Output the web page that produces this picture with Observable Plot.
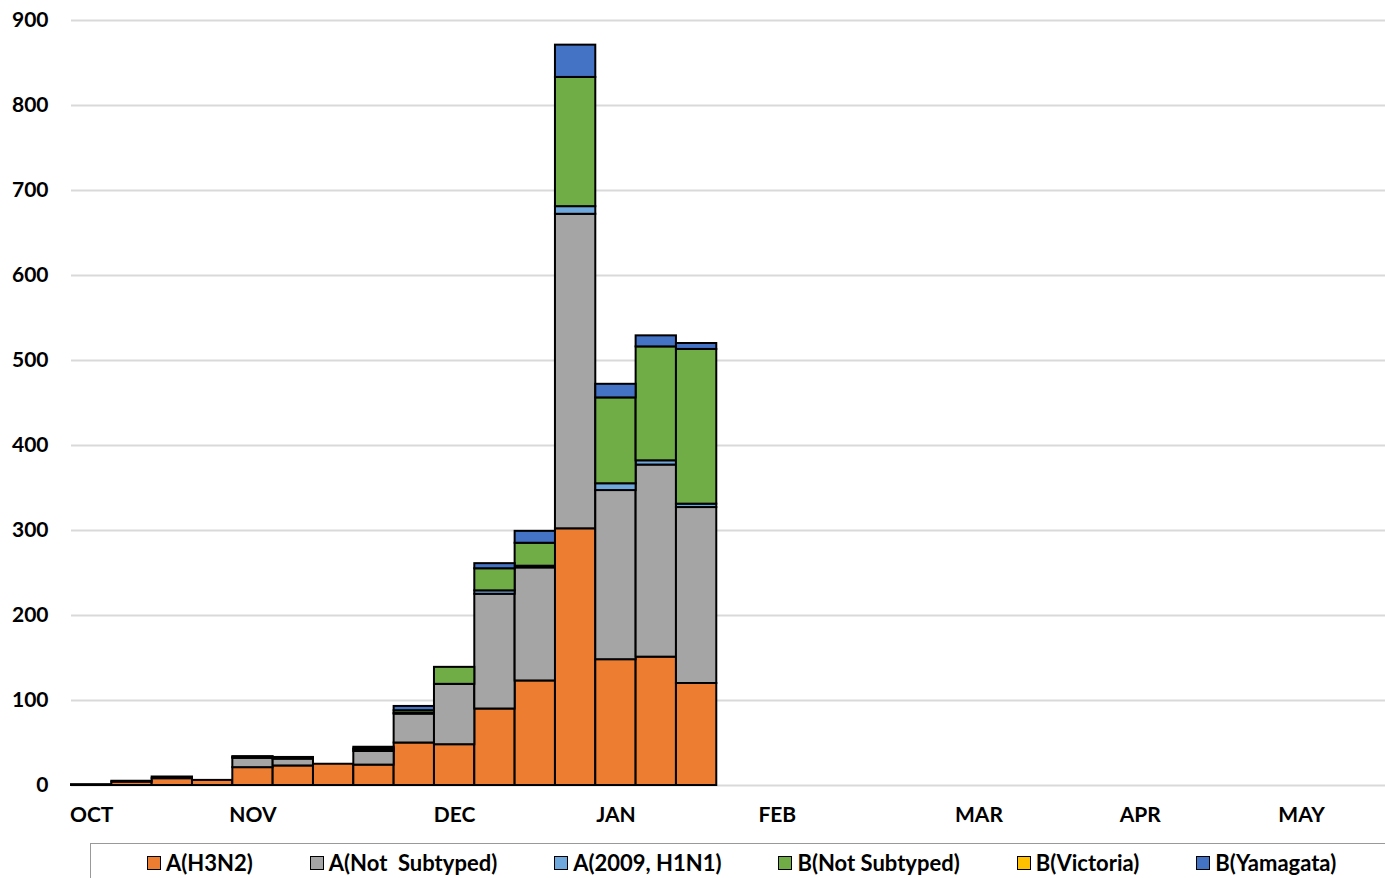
<!DOCTYPE html>
<html>
<head>
<meta charset="utf-8">
<script src="https://cdn.jsdelivr.net/npm/d3@7"></script>
<script src="https://cdn.jsdelivr.net/npm/@observablehq/plot@0.6"></script>
<style>
  html, body { margin: 0; padding: 0; background: #fff; overflow: hidden; }
  body { width: 1385px; height: 878px; position: relative; font-family: Lato, "Open Sans", sans-serif; }
  #chart { position: absolute; left: 0; top: 0; }
  #legend { position: absolute; left: 90px; top: 843px; width: 1320px; height: 60px;
            border-top: 1.5px solid #999; border-left: 1.5px solid #999; box-sizing: border-box;
            display: flex; gap: 57px; padding-left: 56px; padding-top: 5px; align-items: flex-start; }
  .item { display: flex; align-items: center; font-weight: 700; font-size: 22px; color: #000; white-space: pre; }
  .sw { width: 12px; height: 12px; border: 1.5px solid #000; margin-right: 5px; }
</style>
</head>
<body>
<div id="chart"></div>
<div id="legend"></div>
<script>
// ---- data ----
const weekCount = 33;                 // OCT .. end of MAY (weekly)
const monthLabels = ["OCT", "NOV", "DEC", "JAN", "FEB", "MAR", "APR", "MAY"];
const monthStartWeek = [0, 4, 9, 13, 17, 22, 26, 30];
const seriesNames = ["A(H3N2)", "A(Not  Subtyped)", "A(2009, H1N1)", "B(Not Subtyped)", "B(Victoria)", "B(Yamagata)"];
const seriesColors = ["#ED7D31", "#A5A5A5", "#6FA8DC", "#70AD47", "#FFC000", "#4472C4"];
const yTicks = [0, 100, 200, 300, 400, 500, 600, 700, 800, 900];

const h3n2      = [1, 4, 8, 6, 21, 23, 25, 24, 50, 48, 90, 123, 302, 148, 151, 120];
const aNotSub   = [0, 1, 2, 0, 11, 8, 0, 16, 34, 71, 135, 133, 370, 199, 226, 207];
const h1n1      = [0, 0, 0, 0, 1, 1, 0, 2, 1, 0, 4, 2, 9, 8, 5, 4];
const bNotSub   = [0, 0, 0, 0, 0, 0, 0, 1, 3, 20, 26, 27, 152, 101, 134, 182];
const bVictoria = [0, 0, 0, 0, 0, 0, 0, 0, 0, 0, 0, 0, 0, 0, 0, 0];
const bYamagata = [0, 0, 0, 0, 1, 1, 0, 2, 5, 0, 6, 14, 38, 16, 13, 7];

const seriesValues = [h3n2, aNotSub, h1n1, bNotSub, bVictoria, bYamagata];

// long table for the library
const rows = [];
seriesValues.forEach((vals, s) => {
  vals.forEach((v, w) => { if (v > 0) rows.push({week: w, type: seriesNames[s], value: v}); });
});

const weeks = d3.range(weekCount);
const W = 1385, H = 835;

const chart = Plot.plot({
  width: W,
  height: H,
  marginLeft: 71,
  marginRight: 0,
  marginTop: 20,
  marginBottom: 50,
  style: {fontFamily: "Lato, 'Open Sans', sans-serif", background: "#fff"},
  x: {type: "band", domain: weeks, range: [71, 71 + weekCount * 40.33], padding: 0, round: false},
  y: {domain: [0, 900]},
  color: {domain: seriesNames, range: seriesColors},
  marks: [
    Plot.ruleY(yTicks, {stroke: "#d9d9d9", strokeWidth: 2}),
    Plot.barY(rows, Plot.stackY({
      x: "week", y: "value", fill: "type", z: "type",
      stroke: "#000", strokeWidth: 2, inset: 0
    })),
    Plot.axisY({ticks: yTicks, tickSize: 0, tickPadding: 23, fontSize: 21, fontWeight: 700, label: null}),
    Plot.axisX({ticks: monthStartWeek, tickFormat: (d) => monthLabels[monthStartWeek.indexOf(d)],
                tickSize: 0, tickPadding: 22, fontSize: 21, fontWeight: 700, label: null})
  ]
});
d3.select(chart).selectAll("text").attr("fill", "#000");
document.getElementById("chart").appendChild(chart);

// legend
const leg = document.getElementById("legend");
seriesNames.forEach((n, i) => {
  const it = document.createElement("div");
  it.className = "item";
  const sw = document.createElement("div");
  sw.className = "sw";
  sw.style.background = seriesColors[i];
  it.appendChild(sw);
  const t = document.createElement("span");
  t.textContent = n;
  it.appendChild(t);
  leg.appendChild(it);
});
</script>
</body>
</html>
